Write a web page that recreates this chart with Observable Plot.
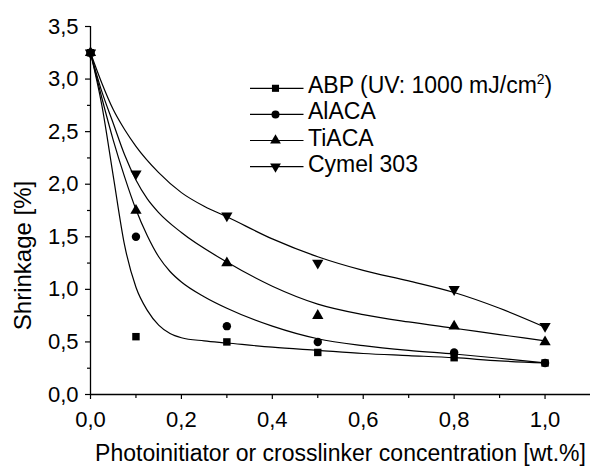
<!DOCTYPE html>
<html><head><meta charset="utf-8">
<script src="https://cdn.jsdelivr.net/npm/d3@7"></script>
<script src="https://cdn.jsdelivr.net/npm/@observablehq/plot@0.6"></script>
<style>
body{margin:0;background:#fff;}
#wrap{position:relative;width:590px;height:467px;font-family:"Liberation Sans",Arial,Helvetica,sans-serif;}
#legend{position:absolute;left:240px;top:60px;}
</style></head><body><div id="wrap"></div>
<script>
// measured points
const concentrations = [0, 0.1, 0.3, 0.5, 0.8, 1.0];
const seriesNames = ["ABP (UV: 1000 mJ/cm2)", "AlACA", "TiACA", "Cymel 303"];
const abpValues   = [3.25, 0.55, 0.50, 0.40, 0.35, 0.30];
const alacaValues = [3.25, 1.50, 0.65, 0.50, 0.40, 0.30];
const tiacaValues = [3.25, 1.75, 1.25, 0.75, 0.65, 0.50];
const cymelValues = [3.25, 2.10, 1.70, 1.25, 1.00, 0.65];

// fitted curves
const abpFitX   = [0, 0.025, 0.05, 0.075, 0.1, 0.125, 0.15, 0.175, 0.2, 0.25, 0.3, 0.4, 0.5, 0.6, 0.7, 0.8, 0.9, 1.0];
const abpFitY   = [3.25, 2.75, 2.08, 1.42, 1.02, 0.80, 0.66, 0.58, 0.54, 0.51, 0.49, 0.45, 0.42, 0.39, 0.37, 0.35, 0.32, 0.30];
const alacaFitX = [0, 0.025, 0.05, 0.075, 0.1, 0.125, 0.15, 0.175, 0.2, 0.25, 0.3, 0.4, 0.5, 0.6, 0.7, 0.8, 0.9, 1.0];
const alacaFitY = [3.25, 2.82, 2.42, 2.07, 1.76, 1.51, 1.31, 1.17, 1.07, 0.93, 0.82, 0.65, 0.53, 0.465, 0.42, 0.385, 0.345, 0.30];
const tiacaFitX = [0, 0.025, 0.05, 0.075, 0.1, 0.125, 0.15, 0.2, 0.3, 0.4, 0.5, 0.6, 0.7, 0.8, 0.9, 1.0];
const tiacaFitY = [3.25, 2.88, 2.58, 2.28, 2.04, 1.86, 1.73, 1.54, 1.26, 1.03, 0.86, 0.76, 0.69, 0.63, 0.57, 0.51];
const cymelFitX = [0, 0.025, 0.05, 0.075, 0.1, 0.15, 0.2, 0.25, 0.3, 0.4, 0.5, 0.6, 0.7, 0.8, 0.9, 1.0];
const cymelFitY = [3.25, 2.96, 2.71, 2.52, 2.36, 2.11, 1.92, 1.79, 1.69, 1.48, 1.31, 1.18, 1.08, 0.97, 0.82, 0.64];

// ticks
const xMajorTicks = [0, 0.2, 0.4, 0.6, 0.8, 1.0];
const xMinorTicks = [0.1, 0.3, 0.5, 0.7, 0.9];
const yMajorTicks = [0, 0.5, 1.0, 1.5, 2.0, 2.5, 3.0, 3.5];
const yMinorTicks = [0.25, 0.75, 1.25, 1.75, 2.25, 2.75, 3.25];
const xLabel = "Photoinitiator or crosslinker concentration [wt.%]";
const yLabel = "Shrinkage [%]";

const downTriangle = {
  draw(context, size) {
    const y = -Math.sqrt(size / (Math.sqrt(3) * 3));
    context.moveTo(0, -y * 2);
    context.lineTo(-Math.sqrt(3) * y, y);
    context.lineTo(Math.sqrt(3) * y, y);
    context.closePath();
  }
};
const symbols = [d3.symbolSquare, d3.symbolCircle, d3.symbolTriangle, downTriangle];
const valueSets = [abpValues, alacaValues, tiacaValues, cymelValues];
const fitSets = [[abpFitX, abpFitY], [alacaFitX, alacaFitY], [tiacaFitX, tiacaFitY], [cymelFitX, cymelFitY]];

const fits = [];
fitSets.forEach(([xs, ys], i) => xs.forEach((x, j) => fits.push({series: seriesNames[i], x, y: ys[j]})));

const fmt = d => d.toFixed(1).replace(".", ",");
const font = "'Liberation Sans', Arial, Helvetica, sans-serif";

const dotMarks = valueSets.map((vals, i) =>
  Plot.dot(concentrations.map((x, j) => ({x, y: vals[j]})), {
    x: "x", y: "y", r: 4.2, symbol: symbols[i], fill: "#000", stroke: "none"
  })
);

const chart = Plot.plot({
  width: 590, height: 467,
  marginLeft: 90, marginRight: 0, marginTop: 26, marginBottom: 73,
  x: {domain: [0, 1.1]},
  y: {domain: [0, 3.5]},
  style: {fontFamily: font, fontSize: "22px", color: "#000", background: "#fff", overflow: "visible"},
  marks: [
    Plot.axisX({ticks: xMajorTicks, tickSize: 5, tickPadding: 12, tickFormat: fmt, label: null, strokeWidth: 1.2}),
    Plot.axisX({ticks: xMinorTicks, tickSize: 4, text: null, label: null, strokeWidth: 1.2}),
    Plot.axisY({ticks: yMajorTicks, tickSize: 5, tickPadding: 7, tickFormat: fmt, label: null, strokeWidth: 1.2}),
    Plot.axisY({ticks: yMinorTicks, tickSize: 3, text: null, label: null, strokeWidth: 1.2}),
    Plot.ruleX([0], {strokeWidth: 1.3}),
    Plot.ruleY([0], {strokeWidth: 1.3}),
    Plot.text([xLabel], {frameAnchor: "bottom", text: d => d, dy: 59, fontSize: 23, textAnchor: "middle", lineAnchor: "middle"}),
    Plot.text([yLabel], {frameAnchor: "left", text: d => d, dx: -67, dy: 45, rotate: -90, fontSize: 24, textAnchor: "middle", lineAnchor: "middle"}),
    Plot.line(fits, {x: "x", y: "y", z: "series", curve: "monotone-x", stroke: "#000", strokeWidth: 1.2}),
    ...dotMarks
  ]
});
document.getElementById("wrap").appendChild(chart);

// legend
const ns = "http://www.w3.org/2000/svg";
const leg = document.createElementNS(ns, "svg");
leg.setAttribute("id", "legend");
leg.setAttribute("width", 345);
leg.setAttribute("height", 130);
leg.style.fontFamily = font;
seriesNames.forEach((name, i) => {
  const cy = 28.3 + i * 26.1;
  const line = document.createElementNS(ns, "line");
  line.setAttribute("x1", 10); line.setAttribute("x2", 63.5);
  line.setAttribute("y1", cy); line.setAttribute("y2", cy);
  line.setAttribute("stroke", "#000"); line.setAttribute("stroke-width", 1.2);
  leg.appendChild(line);
  const p = document.createElementNS(ns, "path");
  p.setAttribute("d", d3.symbol(symbols[i], Math.PI * 16)());
  p.setAttribute("transform", `translate(35.5,${cy})`);
  p.setAttribute("fill", "#000");
  leg.appendChild(p);
  const t = document.createElementNS(ns, "text");
  t.setAttribute("x", 68);
  t.setAttribute("y", cy + 5);
  t.setAttribute("font-size", 23);
  if (i === 0) {
    t.appendChild(document.createTextNode("ABP (UV: 1000 mJ/cm"));
    const sup = document.createElementNS(ns, "tspan");
    sup.setAttribute("dy", -9); sup.setAttribute("font-size", 14);
    sup.textContent = "2";
    t.appendChild(sup);
    const close = document.createElementNS(ns, "tspan");
    close.setAttribute("dy", 9);
    close.textContent = ")";
    t.appendChild(close);
  } else {
    t.textContent = name;
  }
  leg.appendChild(t);
});
document.getElementById("wrap").appendChild(leg);
</script>
</body></html>
